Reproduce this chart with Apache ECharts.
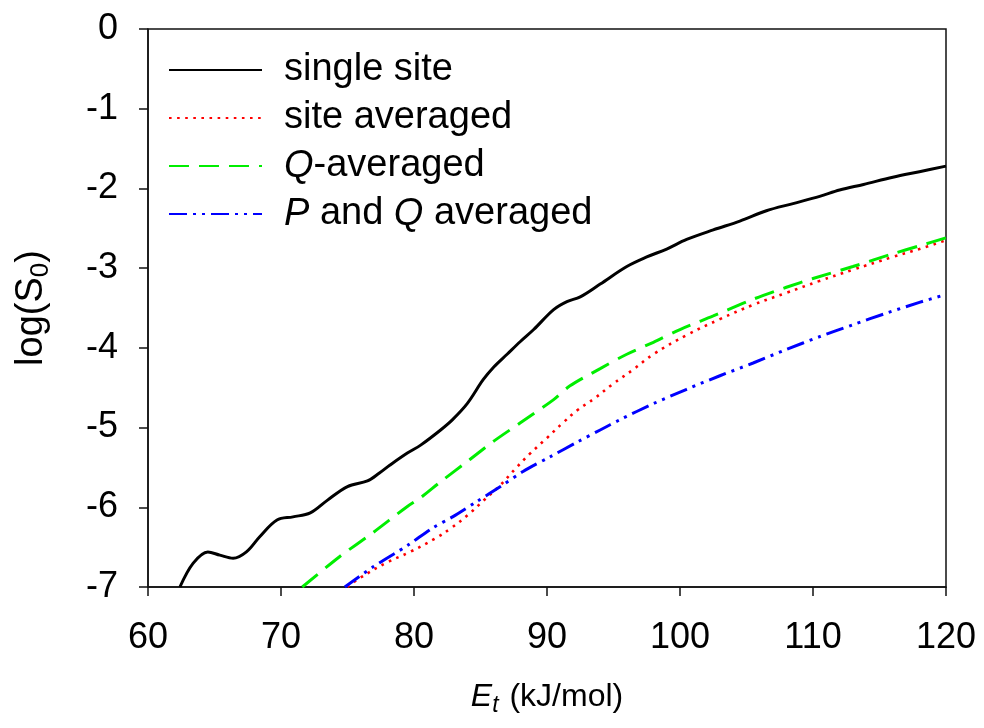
<!DOCTYPE html>
<html>
<head>
<meta charset="utf-8">
<script src="https://cdn.jsdelivr.net/npm/echarts@6/dist/echarts.min.js"></script>
<style>html,body{margin:0;padding:0;background:#fff}#c{width:984px;height:728px}</style>
</head>
<body>
<div id="c"></div>
<script>
// ---- data ----
var seriesNames = ['single site', 'site averaged', 'Q-averaged', 'P and Q averaged'];
var xTicks = [60, 70, 80, 90, 100, 110, 120];
var yTicks = [-7, -6, -5, -4, -3, -2, -1, 0];

var singleX = [62.4,63.4,64.5,65.4,66.4,67.4,68.4,69.7,70.9,72.2,73.5,75.0,76.5,77.4,78.2,79.5,80.5,82.0,82.9,84.0,85.2,86.0,87.0,88.0,89.0,90.5,91.5,92.5,94.0,96.0,97.5,99.0,100.5,102.5,104.5,106.5,108.5,110.5,112.0,113.8,116.0,118.0,120];
var singleY = [-7.0,-6.70,-6.56,-6.60,-6.64,-6.56,-6.37,-6.16,-6.12,-6.07,-5.91,-5.74,-5.67,-5.57,-5.47,-5.32,-5.22,-5.03,-4.90,-4.70,-4.40,-4.24,-4.08,-3.92,-3.77,-3.52,-3.42,-3.36,-3.20,-2.98,-2.86,-2.76,-2.64,-2.52,-2.41,-2.28,-2.19,-2.10,-2.02,-1.95,-1.86,-1.79,-1.72];

var siteAvgX = [75.0,75.9,78.0,79.7,81.6,82.8,84.1,85.2,86.5,87.6,88.7,90.0,91.2,92.3,93.6,94.9,96.5,98.0,100.5,103.0,105.5,108.0,110.5,113.0,116.0,118.0,120];
var siteAvgY = [-7.0,-6.89,-6.69,-6.56,-6.39,-6.26,-6.09,-5.92,-5.72,-5.52,-5.33,-5.13,-4.94,-4.78,-4.63,-4.46,-4.27,-4.08,-3.84,-3.64,-3.46,-3.31,-3.16,-3.02,-2.86,-2.76,-2.65];

var qAvgX = [71.6,74.4,76.9,79.5,80.5,82.0,84.2,86.0,88.0,90.5,91.7,94.0,96.0,98.0,100.0,102.5,105.5,108.0,110.0,113.0,116.0,118.0,120];
var qAvgY = [-7.0,-6.62,-6.32,-5.99,-5.88,-5.68,-5.40,-5.17,-4.94,-4.65,-4.48,-4.26,-4.08,-3.93,-3.77,-3.60,-3.39,-3.24,-3.13,-2.98,-2.82,-2.72,-2.62];

var pqAvgX = [74.8,76.9,79.5,81.4,82.9,84.7,86.5,88.2,90.2,92.3,94.0,95.5,98.0,100.5,103.0,105.5,108.0,110.5,113.0,115.6,118.0,120];
var pqAvgY = [-7.0,-6.75,-6.48,-6.26,-6.12,-5.93,-5.74,-5.55,-5.37,-5.18,-5.03,-4.90,-4.70,-4.52,-4.35,-4.19,-4.02,-3.86,-3.71,-3.56,-3.43,-3.33];

function pairs(xs, ys) { return xs.map(function (x, i) { return [x, ys[i]]; }); }

var FONT = '"Liberation Sans", Arial, sans-serif';
var chart = echarts.init(document.getElementById('c'), null, { renderer: 'canvas' });

var legendLabels = {
  'single site': 'single site',
  'site averaged': 'site averaged',
  'Q-averaged': '{i|Q}-averaged',
  'P and Q averaged': '{i|P} and {i|Q} averaged'
};

chart.setOption({
  animation: false,
  backgroundColor: '#fff',
  grid: { left: 148, right: 38, top: 29, bottom: 141, show: true, borderColor: '#111', borderWidth: 1.5, backgroundColor: 'transparent' },
  legend: {
    orient: 'vertical',
    left: 168,
    top: 50,
    padding: 0,
    itemWidth: 93,
    itemHeight: 14,
    itemGap: 8,
    data: seriesNames,
    itemStyle: { opacity: 0 },
    formatter: function (n) { return legendLabels[n]; },
    textStyle: {
      fontFamily: FONT, fontSize: 38, color: '#000', padding: [0, 0, 0, 17], lineHeight: 40,
      rich: { i: { fontFamily: FONT, fontSize: 38, fontStyle: 'italic', color: '#000', lineHeight: 40 } }
    }
  },
  xAxis: {
    type: 'value', min: xTicks[0], max: xTicks[xTicks.length - 1], interval: 10,
    axisLine: { show: true, onZero: false, lineStyle: { color: '#111', width: 1.5 } },
    axisTick: { show: true, inside: false, length: 9, lineStyle: { color: '#111', width: 1.5 } },
    splitLine: { show: false },
    axisLabel: { fontFamily: FONT, fontSize: 36, color: '#000', margin: 33 },
    name: '{i|E}{sub|t} (kJ/mol)',
    nameLocation: 'middle',
    nameGap: 90,
    nameTextStyle: {
      fontFamily: FONT, fontSize: 32, color: '#000',
      rich: {
        i: { fontFamily: FONT, fontSize: 32, fontStyle: 'italic', color: '#000' },
        sub: { fontFamily: FONT, fontSize: 23, fontStyle: 'italic', color: '#000', padding: [17, 2, 0, 0] }
      }
    }
  },
  yAxis: {
    type: 'value', min: yTicks[0], max: yTicks[yTicks.length - 1], interval: 1,
    axisLine: { show: true, onZero: false, lineStyle: { color: '#111', width: 1.5 } },
    axisTick: { show: true, inside: false, length: 9, lineStyle: { color: '#111', width: 1.5 } },
    splitLine: { show: false },
    axisLabel: { fontFamily: FONT, fontSize: 36, color: '#000', margin: 30 },
    name: 'log(S{sub|0})',
    nameLocation: 'middle',
    nameGap: 94,
    nameTextStyle: {
      fontFamily: FONT, fontSize: 38, color: '#000',
      rich: { sub: { fontFamily: FONT, fontSize: 26, color: '#000', padding: [18, 0, 0, 0] } }
    }
  },
  series: [
    { name: seriesNames[0], type: 'line', data: pairs(singleX, singleY), showSymbol: false, symbol: 'none', smooth: 0.35,
      lineStyle: { color: '#000', width: 3, type: 'solid' }, itemStyle: { color: '#000' } },
    { name: seriesNames[1], type: 'line', data: pairs(siteAvgX, siteAvgY), showSymbol: false, symbol: 'none', smooth: 0.4,
      lineStyle: { color: '#ff0000', width: 2.6, type: [2.6, 5.5] }, itemStyle: { color: '#ff0000' } },
    { name: seriesNames[2], type: 'line', data: pairs(qAvgX, qAvgY), showSymbol: false, symbol: 'none', smooth: 0.3,
      lineStyle: { color: '#00ee00', width: 3, type: [20, 10] }, itemStyle: { color: '#00ee00' } },
    { name: seriesNames[3], type: 'line', data: pairs(pqAvgX, pqAvgY), showSymbol: false, symbol: 'none', smooth: 0.3,
      lineStyle: { color: '#0000ff', width: 3, type: [18, 6, 3, 6, 3, 6] }, itemStyle: { color: '#0000ff' } }
  ]
});
</script>
</body>
</html>
